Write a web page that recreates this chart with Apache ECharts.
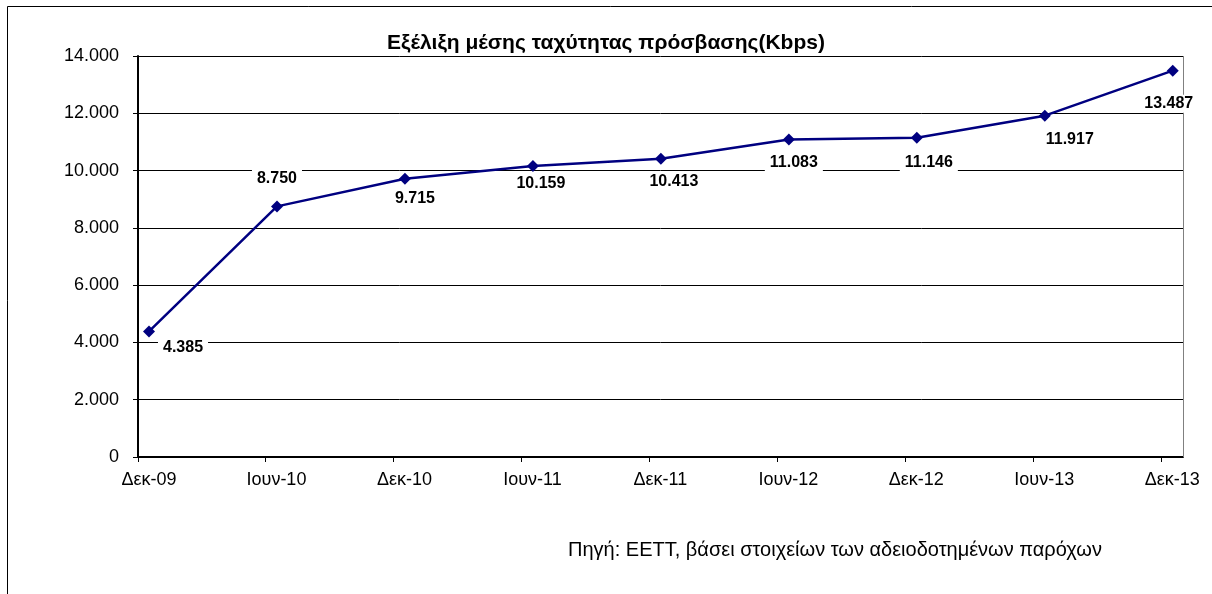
<!DOCTYPE html>
<html>
<head>
<meta charset="utf-8">
<script src="https://cdn.jsdelivr.net/npm/echarts@6/dist/echarts.min.js"></script>
<style>
html,body{margin:0;padding:0;background:#fff;}
#chart{width:1212px;height:594px;}
</style>
</head>
<body>
<div id="chart"></div>
<script>
var categories = ['Δεκ-09','Ιουν-10','Δεκ-10','Ιουν-11','Δεκ-11','Ιουν-12','Δεκ-12','Ιουν-13','Δεκ-13'];
var speedKbps = [4385, 8750, 9715, 10159, 10413, 11083, 11146, 11917, 13487];
var yTicks = {min: 0, max: 14000, interval: 2000};
var titleText = 'Εξέλιξη μέσης ταχύτητας πρόσβασης(Kbps)';
var sourceText = 'Πηγή: ΕΕΤΤ, βάσει στοιχείων των αδειοδοτημένων παρόχων';

// label placement (layout only): offset of label centre from point
var labelOffsets = [[34,16],[0,-28],[10,20],[8,18],[13,23],[5,23],[12,25],[25,24],[-4,33]];

var X_SHIFT = 0.086;
function fmt(v){
  return String(Math.round(v)).replace(/\B(?=(\d{3})+(?!\d))/g, '.');
}

var seriesData = speedKbps.map(function(v, i){ return [i, v]; });

var chart = echarts.init(document.getElementById('chart'), null, {renderer:'canvas'});
var FONT = '"Liberation Sans", Arial, sans-serif';
chart.setOption({
  animation: false,
  backgroundColor: '#fff',
  textStyle: { fontFamily: FONT },
  title: {
    text: titleText,
    left: 601, top: 28, textAlign: 'center',
    textStyle: { fontFamily: FONT, fontSize: 21, fontWeight: 'bold', color: '#000' }
  },
  graphic: [
    { type: 'rect', shape: {x: 7.5, y: 6.5, width: 1220, height: 600},
      style: { fill: null, stroke: '#000', lineWidth: 1 }, silent: true, z: -1 },
    { type: 'line', shape: {x1: 1183.5, y1: 56, x2: 1183.5, y2: 457},
      style: { stroke: '#808080', lineWidth: 1 }, silent: true, z: 1 },
    { type: 'text', left: 568, top: 540,
      style: { text: sourceText, font: '20px ' + FONT, fill: '#000' } }
  ],
  grid: { left: 138, right: 29, top: 56, bottom: 137, containLabel: false },
  xAxis: {
    type: 'value',
    min: -X_SHIFT,
    max: 8.08,
    interval: 1,
    axisLine: { show: true, onZero: false, lineStyle: { color: '#000', width: 2 } },
    axisTick: { show: true, length: 5, lineStyle: { color: '#000', width: 1 } },
    splitLine: { show: false },
    axisLabel: {
      showMaxLabel: false,
      showMinLabel: true,
      margin: 14,
      padding: [0, 0, 0, 22],
      fontSize: 18,
      color: '#000',
      fontFamily: FONT,
      formatter: function(v){
        var i = Math.round(v + X_SHIFT);
        if (Math.abs(v + X_SHIFT - i) > 0.02) return '';
        return categories[i] || '';
      }
    }
  },
  yAxis: {
    type: 'value',
    min: yTicks.min, max: yTicks.max, interval: yTicks.interval,
    axisLine: { show: true, onZero: false, lineStyle: { color: '#000', width: 2 } },
    axisTick: { show: true, length: 5, lineStyle: { color: '#000', width: 1 } },
    splitLine: { show: true, lineStyle: { color: '#000', width: 1 } },
    axisLabel: {
      margin: 19, fontSize: 18, color: '#000', fontFamily: FONT,
      formatter: function(v){ return fmt(v); }
    }
  },
  series: [{
    type: 'line',
    data: seriesData,
    symbol: 'diamond',
    symbolSize: 12,
    showSymbol: true,
    showAllSymbol: true,
    itemStyle: { color: '#000080' },
    lineStyle: { color: '#000080', width: 2.5 },
    z: 3,
    label: {
      show: true,
      position: 'inside',
      formatter: function(p){ return fmt(p.value[1]); },
      fontFamily: FONT, fontSize: 16, fontWeight: 'bold', color: '#000',
      backgroundColor: '#fff', padding: [1, 5]
    },
    labelLayout: function(params){
      var o = labelOffsets[params.dataIndex] || [0, 0];
      return { dx: o[0], dy: o[1], hideOverlap: false };
    }
  }]
});
</script>
</body>
</html>
